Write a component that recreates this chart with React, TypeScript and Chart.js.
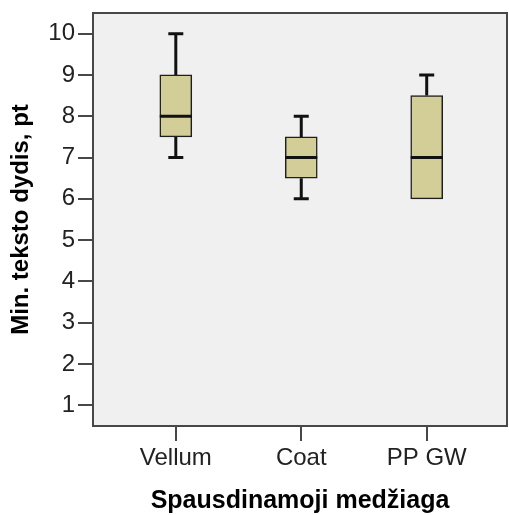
import { useEffect, useRef } from 'react';
import { Chart, registerables } from 'chart.js';

Chart.register(...registerables);

// Five-number summaries for each printing material
const categories = ['Vellum', 'Coat', 'PP GW'];
const minimums = [7, 6, 6];
const lowerQuartiles = [7.5, 6.5, 6];
const medians = [8, 7, 7];
const upperQuartiles = [9, 7.5, 8.5];
const maximums = [10, 8, 9];

const yTickValues = [1, 2, 3, 4, 5, 6, 7, 8, 9, 10];

const yTitle = 'Min. teksto dydis, pt';
const xTitle = 'Spausdinamoji medžiaga';

const FONT = "Arial, 'Liberation Sans', sans-serif";
const FRAME = '#474747';
const INK = '#111111';

// Draws the plot background, whiskers, medians and the surrounding frame.
const boxplotParts = {
  id: 'boxplotParts',
  beforeDraw(chart: any) {
    const { ctx, chartArea: a } = chart;
    ctx.save();
    ctx.fillStyle = '#f0f0f0';
    ctx.fillRect(a.left, a.top, a.right - a.left, a.bottom - a.top);
    ctx.restore();
  },
  beforeDatasetsDraw(chart: any) {
    const { ctx } = chart;
    const y = chart.scales.y;
    const meta = chart.getDatasetMeta(0);
    ctx.save();
    ctx.strokeStyle = INK;
    ctx.lineWidth = 3;
    ctx.lineCap = 'butt';
    meta.data.forEach((bar: any, i: number) => {
      const { x } = bar.getProps(['x'], true);
      const cap = 7.5;
      const segs: [number, number][] = [];
      if (maximums[i] > upperQuartiles[i]) segs.push([upperQuartiles[i], maximums[i]]);
      if (minimums[i] < lowerQuartiles[i]) segs.push([lowerQuartiles[i], minimums[i]]);
      segs.forEach(([from, to]) => {
        const y0 = y.getPixelForValue(from);
        const y1 = y.getPixelForValue(to);
        ctx.beginPath();
        ctx.moveTo(x, y0);
        ctx.lineTo(x, y1);
        ctx.moveTo(x - cap, y1);
        ctx.lineTo(x + cap, y1);
        ctx.stroke();
      });
    });
    ctx.restore();
  },
  afterDatasetsDraw(chart: any) {
    const { ctx } = chart;
    const y = chart.scales.y;
    const meta = chart.getDatasetMeta(0);
    ctx.save();
    ctx.strokeStyle = INK;
    ctx.lineWidth = 3;
    meta.data.forEach((bar: any, i: number) => {
      const { x, width } = bar.getProps(['x', 'width'], true);
      const py = y.getPixelForValue(medians[i]);
      ctx.beginPath();
      ctx.moveTo(x - width / 2, py);
      ctx.lineTo(x + width / 2, py);
      ctx.stroke();
    });
    ctx.restore();
  },
  afterDraw(chart: any) {
    const { ctx, chartArea: a } = chart;
    ctx.save();
    ctx.strokeStyle = FRAME;
    ctx.lineWidth = 2;
    ctx.strokeRect(a.left, a.top, a.right - a.left, a.bottom - a.top);
    ctx.restore();
  },
};

export default function App() {
  const canvasRef = useRef<HTMLCanvasElement | null>(null);

  useEffect(() => {
    document.body.style.margin = '0';
    const canvas = canvasRef.current;
    if (!canvas) return;

    const boxes = categories.map((_, i) => ({ x: i, y: [lowerQuartiles[i], upperQuartiles[i]] }));

    const chart = new Chart(canvas, {
      type: 'bar',
      data: {
        datasets: [
          {
            data: boxes as any,
            backgroundColor: '#d3ce97',
            borderColor: '#1e1e1e',
            borderWidth: 1.5,
            borderSkipped: false,
            barThickness: 32,
            grouped: false,
          } as any,
        ],
      },
      options: {
        responsive: false,
        animation: false,
        devicePixelRatio: 1,
        layout: { padding: { top: 13, right: 2, left: 0, bottom: 0 } },
        plugins: {
          legend: { display: false },
          tooltip: { enabled: false },
        },
        scales: {
          x: {
            type: 'linear',
            min: -0.66,
            max: 2.64,
            offset: false,
            afterBuildTicks: (scale: any) => {
              scale.ticks = categories.map((_, i) => ({ value: i }));
            },
            afterFit: (scale: any) => {
              scale.height = 89;
              scale.paddingLeft = 0;
              scale.paddingRight = 0;
            },
            grid: {
              offset: false,
              drawOnChartArea: false,
              drawTicks: true,
              tickLength: 15,
              color: FRAME,
              lineWidth: 2,
            },
            border: { display: true, color: FRAME, width: 2 },
            ticks: {
              autoSkip: false,
              maxRotation: 0,
              padding: 3,
              color: '#222222',
              font: { family: FONT, size: 24, lineHeight: 1.2 },
              callback: (v: any) => categories[v as number] ?? '',
            },
            title: {
              display: true,
              text: xTitle,
              color: '#000000',
              font: { family: FONT, size: 25, weight: 'bold', lineHeight: 1 },
              padding: { top: 0, bottom: 1 },
            },
          },
          y: {
            type: 'linear',
            min: 0.5,
            max: 10.5,
            afterBuildTicks: (scale: any) => {
              scale.ticks = yTickValues.map((v) => ({ value: v }));
            },
            afterFit: (scale: any) => {
              scale.width = 93;
              scale.paddingTop = 0;
              scale.paddingBottom = 0;
            },
            grid: {
              drawOnChartArea: false,
              drawTicks: true,
              tickLength: 15,
              color: FRAME,
              lineWidth: 2,
            },
            border: { display: true, color: FRAME, width: 2 },
            ticks: {
              autoSkip: false,
              padding: 3,
              color: '#222222',
              font: { family: FONT, size: 24 },
            },
            title: {
              display: true,
              text: yTitle,
              color: '#000000',
              font: { family: FONT, size: 24, weight: 'bold', lineHeight: 1 },
              padding: { top: 9, bottom: 0 },
            },
          },
        },
      },
      plugins: [boxplotParts],
    });

    return () => chart.destroy();
  }, []);

  return (
    <div style={{ position: 'absolute', left: 0, top: 0, width: 509, height: 515 }}>
      <canvas ref={canvasRef} width={509} height={515} />
    </div>
  );
}
